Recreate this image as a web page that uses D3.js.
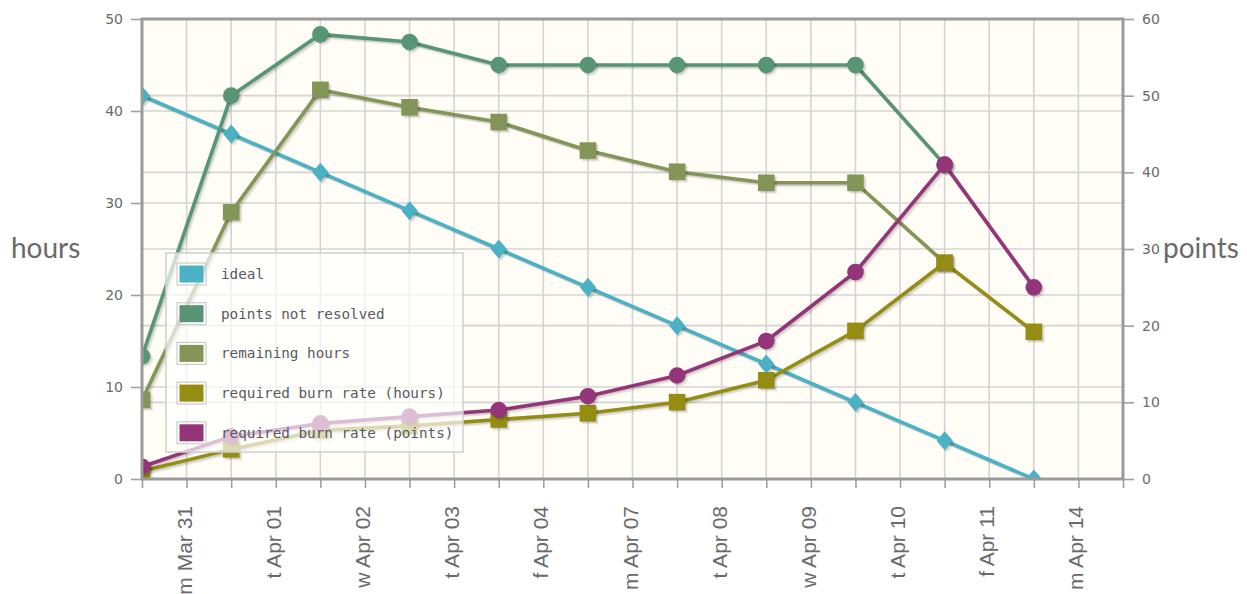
<!DOCTYPE html>
<html>
<head>
<meta charset="utf-8">
<script src="https://cdn.jsdelivr.net/npm/d3@7"></script>
<style>
  html, body { margin: 0; padding: 0; background: #ffffff; }
  svg { display: block; }
</style>
</head>
<body>
<svg id="chart" width="1247" height="594"></svg>
<script>
// Sprint burndown: hours on the left axis, points on the right axis.
const dayLabels = ["m Mar 31", "t Apr 01", "w Apr 02", "t Apr 03", "f Apr 04",
                   "m Apr 07", "t Apr 08", "w Apr 09", "t Apr 10", "f Apr 11", "m Apr 14"];
const hoursTicks = [0, 10, 20, 30, 40, 50];
const pointsTicks = [0, 10, 20, 30, 40, 50, 60];

const ideal = [50, 45, 40, 35, 30, 25, 20, 15, 10, 5, 0];                              // points
const pointsNotResolved = [16, 50, 58, 57, 54, 54, 54, 54, 54, 41];                     // points
const remainingHours = [8.6, 29.0, 42.3, 40.4, 38.8, 35.7, 33.4, 32.2, 32.2, 23.5];     // hours
const burnRateHours = [0.86, 3.22, 5.29, 5.77, 6.47, 7.14, 8.35, 10.73, 16.1, 23.5, 16.0]; // hours
const burnRatePoints = [1.6, 5.56, 7.25, 8.14, 9.0, 10.8, 13.5, 18.0, 27.0, 41.0, 25.0];   // points

const seriesNames = ["ideal", "points not resolved", "remaining hours",
                     "required burn rate (hours)", "required burn rate (points)"];

const svg = d3.select("#chart");
const plot = { left: 142, right: 1123, top: 19, bottom: 479 };

const x = d3.scaleLinear().domain([0, dayLabels.length]).range([plot.left, plot.right]);
const yHours = d3.scaleLinear().domain([0, 50]).range([plot.bottom, plot.top]);
const yPoints = d3.scaleLinear().domain([0, 60]).range([plot.bottom, plot.top]);

const series = [
  { name: seriesNames[0], values: ideal, y: yPoints, color: "#4bb2c5", marker: "diamond" },
  { name: seriesNames[1], values: pointsNotResolved, y: yPoints, color: "#579575", marker: "circle" },
  { name: seriesNames[2], values: remainingHours, y: yHours, color: "#839557", marker: "square" },
  { name: seriesNames[3], values: burnRateHours, y: yHours, color: "#958c12", marker: "square" },
  { name: seriesNames[4], values: burnRatePoints, y: yPoints, color: "#953579", marker: "circle" }
];

// plot background
svg.append("rect")
  .attr("x", plot.left).attr("y", plot.top)
  .attr("width", plot.right - plot.left).attr("height", plot.bottom - plot.top)
  .attr("fill", "#fffdf6");

// vertical grid lines, one per half step
const halfSteps = d3.range(0, dayLabels.length * 2 + 1).map(d => d / 2);
const grid = svg.append("g").attr("stroke", "#d4d4d4").attr("stroke-width", 1.6);
grid.selectAll("line.v").data(halfSteps.slice(1, -1)).join("line")
  .attr("x1", d => x(d)).attr("x2", d => x(d))
  .attr("y1", plot.top).attr("y2", plot.bottom);
// horizontal grid lines for both value axes
grid.selectAll("line.h").data(hoursTicks.slice(1, -1)).join("line")
  .attr("x1", plot.left).attr("x2", plot.right)
  .attr("y1", d => yHours(d)).attr("y2", d => yHours(d));
grid.selectAll("line.hp").data(pointsTicks.slice(1, -1)).join("line")
  .attr("x1", plot.left).attr("x2", plot.right)
  .attr("y1", d => yPoints(d)).attr("y2", d => yPoints(d));

// axes
const tickColor = "#a0a0a0";
const labelColor = "#6a6a6a";

const leftAxis = svg.append("g").attr("transform", `translate(${plot.left},0)`)
  .call(d3.axisLeft(yHours).tickValues(hoursTicks).tickSize(11).tickPadding(8).tickFormat(d3.format("d")));
const rightAxis = svg.append("g").attr("transform", `translate(${plot.right},0)`)
  .call(d3.axisRight(yPoints).tickValues(pointsTicks).tickSize(11).tickPadding(8).tickFormat(d3.format("d")));
const bottomAxis = svg.append("g").attr("transform", `translate(0,${plot.bottom})`)
  .call(d3.axisBottom(x).tickValues(halfSteps).tickSize(9).tickFormat(() => ""));

[leftAxis, rightAxis, bottomAxis].forEach(a => {
  a.select(".domain").remove();
  a.selectAll(".tick line").attr("stroke", tickColor).attr("stroke-width", 1.6);
  a.selectAll(".tick text")
    .attr("fill", labelColor)
    .style("font-family", "'DejaVu Sans', sans-serif")
    .style("font-size", "14px");
});

// day labels sit between the data columns, rotated upwards
svg.append("g").selectAll("text").data(dayLabels).join("text")
  .attr("transform", (d, i) => `translate(${x(i + 0.5) + 5},506) rotate(-90)`)
  .attr("text-anchor", "end")
  .attr("fill", labelColor)
  .style("font-family", "'Liberation Sans', Arial, sans-serif")
  .style("font-size", "21px")
  .text(d => d);

// axis titles
svg.append("text").attr("x", 11).attr("y", 258)
  .attr("fill", labelColor)
  .style("font-family", "Lato, sans-serif").style("font-size", "28px")
  .text("hours");
svg.append("text").attr("x", 1163).attr("y", 258)
  .attr("fill", labelColor)
  .style("font-family", "Lato, sans-serif").style("font-size", "28px")
  .text("points");

// series, clipped to the plot area
svg.append("clipPath").attr("id", "plot-clip").append("rect")
  .attr("x", plot.left).attr("y", plot.top)
  .attr("width", plot.right - plot.left).attr("height", plot.bottom - plot.top);
const layer = svg.append("g").attr("clip-path", "url(#plot-clip)");

const shadowOffsets = [0.9, 1.8, 2.7];

function markerPath(type, cx, cy) {
  if (type === "circle") {
    const r = 8.3;
    return `M${cx - r},${cy}a${r},${r} 0 1,0 ${2 * r},0a${r},${r} 0 1,0 ${-2 * r},0Z`;
  }
  if (type === "square") {
    const h = 8.3;
    return `M${cx - h},${cy - h}h${2 * h}v${2 * h}h${-2 * h}Z`;
  }
  const w = 8, v = 9.5;
  return `M${cx},${cy - v}L${cx + w},${cy}L${cx},${cy + v}L${cx - w},${cy}Z`;
}

series.forEach(s => {
  const pts = s.values.map((v, i) => [x(i), s.y(v)]);
  const line = d3.line();
  const g = layer.append("g");
  shadowOffsets.forEach(o => {
    g.append("path").attr("d", line(pts))
      .attr("transform", `translate(${o},${o})`)
      .attr("fill", "none").attr("stroke", "rgba(0,0,0,0.07)")
      .attr("stroke-width", 3.6).attr("stroke-linejoin", "round");
  });
  g.append("path").attr("d", line(pts))
    .attr("fill", "none").attr("stroke", s.color)
    .attr("stroke-width", 3.6).attr("stroke-linejoin", "round");
  pts.forEach(p => {
    shadowOffsets.forEach(o => {
      g.append("path").attr("d", markerPath(s.marker, p[0] + o, p[1] + o))
        .attr("fill", "rgba(0,0,0,0.07)");
    });
    g.append("path").attr("d", markerPath(s.marker, p[0], p[1])).attr("fill", s.color);
  });
});

// plot border
svg.append("rect")
  .attr("x", plot.left).attr("y", plot.top)
  .attr("width", plot.right - plot.left).attr("height", plot.bottom - plot.top)
  .attr("fill", "none").attr("stroke", "#9a9a9a").attr("stroke-width", 3);

// legend
const legend = svg.append("g").attr("transform", "translate(166,253)");
legend.append("rect")
  .attr("width", 297).attr("height", 199)
  .attr("fill", "rgba(255,255,255,0.68)")
  .attr("stroke", "#cfcfcf").attr("stroke-width", 1.5);
const rows = legend.selectAll("g.row").data(series).join("g")
  .attr("transform", (d, i) => `translate(0,${21 + i * 39.7})`);
rows.append("rect")
  .attr("x", 11).attr("y", -11).attr("width", 29).attr("height", 22)
  .attr("fill", "none").attr("stroke", "#cccccc").attr("stroke-width", 1.2);
rows.append("rect")
  .attr("x", 13.5).attr("y", -8.5).attr("width", 24).attr("height", 17)
  .attr("fill", d => d.color);
rows.append("text")
  .attr("x", 55).attr("y", 5)
  .attr("fill", "#595962")
  .style("font-family", "'DejaVu Sans Mono', monospace")
  .style("font-size", "14.3px")
  .text(d => d.name);
</script>
</body>
</html>
